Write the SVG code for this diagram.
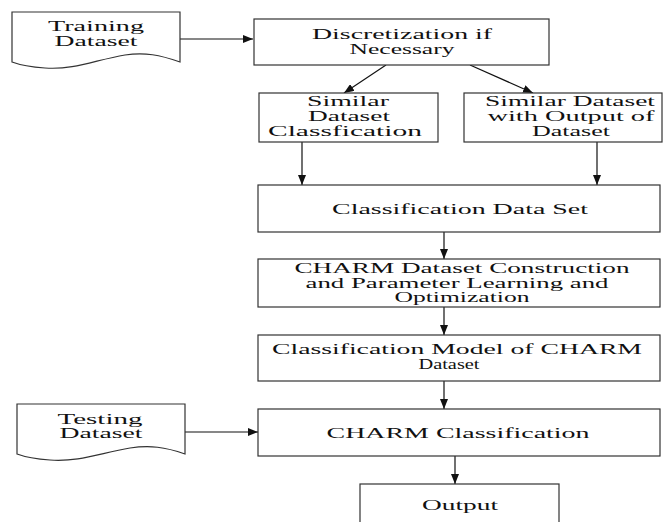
<svg xmlns="http://www.w3.org/2000/svg" width="664" height="522" viewBox="0 0 664 522">
<defs>
<style>
.box{fill:#fff;stroke:#333;stroke-width:1.2}
.t{font-family:"Liberation Serif","Times New Roman",serif;font-size:14px;fill:#111;text-anchor:middle}
.c{fill:none;stroke:#111;stroke-width:1.2}
</style>
<marker id="ah" viewBox="0 0 10 8" refX="10" refY="4" markerWidth="10" markerHeight="8" markerUnits="userSpaceOnUse" orient="auto">
<path d="M0,0 L10,4 L0,8 Z" fill="#111"/>
</marker>
</defs>
<rect width="664" height="522" fill="#fff"/>
<g id="connectors">
<line class="c" x1="180" y1="39" x2="253" y2="39" marker-end="url(#ah)"/>
<line class="c" x1="386" y1="65" x2="344" y2="93" marker-end="url(#ah)"/>
<line class="c" x1="470" y1="65" x2="533" y2="93" marker-end="url(#ah)"/>
<line class="c" x1="302" y1="142" x2="302" y2="185" marker-end="url(#ah)"/>
<line class="c" x1="597" y1="142" x2="597" y2="185" marker-end="url(#ah)"/>
<line class="c" x1="444" y1="232" x2="444" y2="259" marker-end="url(#ah)"/>
<line class="c" x1="444" y1="307" x2="444" y2="335" marker-end="url(#ah)"/>
<line class="c" x1="444" y1="381" x2="444" y2="409" marker-end="url(#ah)"/>
<line class="c" x1="185" y1="432" x2="258" y2="432" marker-end="url(#ah)"/>
<line class="c" x1="455" y1="456" x2="455" y2="484" marker-end="url(#ah)"/>
</g>
<g id="training">
<path class="box" d="M12,12 H180 V62 C160,55 145,52 125,55 C95,60 75,70 45,68 C30,67 20,65 12,62 Z"/>
<text class="t" x="96" y="31" textLength="96" lengthAdjust="spacingAndGlyphs">Training</text>
<text class="t" x="96" y="46" textLength="83" lengthAdjust="spacingAndGlyphs">Dataset</text>
</g>
<g id="discretization">
<rect class="box" x="254" y="19" width="295" height="46"/>
<text class="t" x="402" y="39" textLength="180" lengthAdjust="spacingAndGlyphs">Discretization if</text>
<text class="t" x="402" y="54" textLength="105" lengthAdjust="spacingAndGlyphs">Necessary</text>
</g>
<g id="similar1">
<rect class="box" x="259" y="93" width="179" height="49"/>
<text class="t" x="348" y="106" textLength="82" lengthAdjust="spacingAndGlyphs">Similar</text>
<text class="t" x="349" y="121" textLength="82" lengthAdjust="spacingAndGlyphs">Dataset</text>
<text class="t" x="345" y="136" textLength="154" lengthAdjust="spacingAndGlyphs">Classfication</text>
</g>
<g id="similar2">
<rect class="box" x="464" y="93" width="198" height="49"/>
<text class="t" x="570" y="106" textLength="170" lengthAdjust="spacingAndGlyphs">Similar Dataset</text>
<text class="t" x="571" y="121" textLength="167" lengthAdjust="spacingAndGlyphs">with Output of</text>
<text class="t" x="571" y="136" textLength="78" lengthAdjust="spacingAndGlyphs">Dataset</text>
</g>
<g id="classdata">
<rect class="box" x="258" y="185" width="402" height="47"/>
<text class="t" x="460" y="214" textLength="256" lengthAdjust="spacingAndGlyphs">Classification Data Set</text>
</g>
<g id="charmconstruct">
<rect class="box" x="258" y="259" width="402" height="48"/>
<text class="t" x="462" y="273" textLength="335" lengthAdjust="spacingAndGlyphs">CHARM Dataset Construction</text>
<text class="t" x="457" y="288" textLength="303" lengthAdjust="spacingAndGlyphs">and Parameter Learning and</text>
<text class="t" x="462" y="302" textLength="135" lengthAdjust="spacingAndGlyphs">Optimization</text>
</g>
<g id="classmodel">
<rect class="box" x="258" y="335" width="402" height="46"/>
<text class="t" x="457" y="354" textLength="370" lengthAdjust="spacingAndGlyphs">Classification Model of CHARM</text>
<text class="t" x="449" y="369" textLength="61" lengthAdjust="spacingAndGlyphs">Dataset</text>
</g>
<g id="testing">
<path class="box" d="M17,404 H185 V454 C165,447 150,445 130,448 C100,453 80,462 50,460 C35,459 25,457 17,454 Z"/>
<text class="t" x="100" y="424" textLength="85" lengthAdjust="spacingAndGlyphs">Testing</text>
<text class="t" x="101" y="438" textLength="83" lengthAdjust="spacingAndGlyphs">Dataset</text>
</g>
<g id="charmclass">
<rect class="box" x="258" y="409" width="402" height="47"/>
<text class="t" x="458" y="438" textLength="263" lengthAdjust="spacingAndGlyphs">CHARM Classification</text>
</g>
<g id="output">
<rect class="box" x="360" y="484" width="199" height="50"/>
<text class="t" x="460" y="510" textLength="76" lengthAdjust="spacingAndGlyphs">Output</text>
</g>
</svg>
